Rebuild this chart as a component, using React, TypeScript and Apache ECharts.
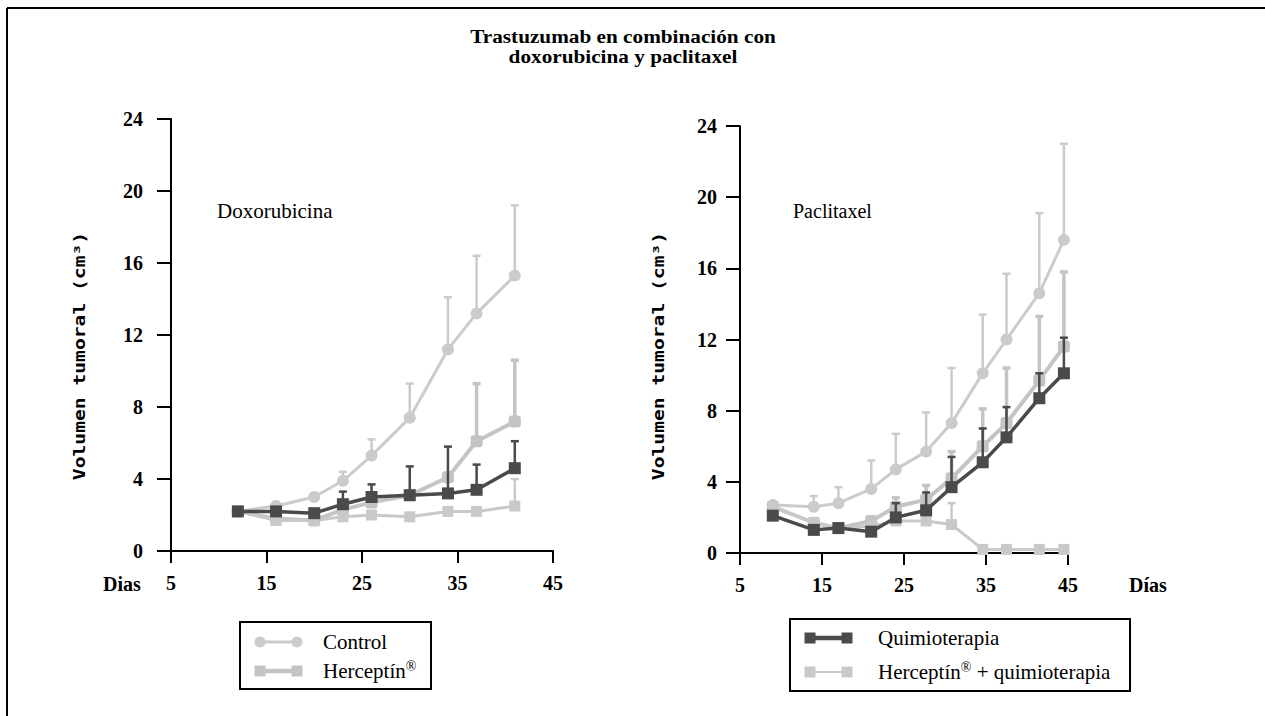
import React, { useEffect, useRef } from "react";
import * as echarts from "echarts";

// ---------- Data ----------
const daysLeft = [12, 16, 20, 23, 26, 30, 34, 37, 41];
const controlLeft = [2.2, 2.5, 3.0, 3.9, 5.3, 7.4, 11.2, 13.2, 15.3];
const controlLeftErr = [null, null, null, 4.4, 6.2, 9.3, 14.1, 16.4, 19.2];
const herceptinLeft = [2.2, 1.8, 1.7, 2.3, 2.7, 3.1, 4.1, 6.1, 7.2];
const herceptinLeftErr = [null, null, null, null, null, null, null, 9.3, 10.6];
const quimioLeft = [2.2, 2.2, 2.1, 2.6, 3.0, 3.1, 3.2, 3.4, 4.6];
const quimioLeftErr = [null, null, null, 3.3, 3.7, 4.7, 5.8, 4.8, 6.1];
const hqLeft = [2.2, 1.7, 1.7, 1.9, 2.0, 1.9, 2.2, 2.2, 2.5];
const hqLeftErr = [null, null, null, null, null, null, null, null, 4.0];

const daysRight = [9, 14, 17, 21, 24, 27.7, 30.8, 34.6, 37.5, 41.5, 44.5];
const controlRight = [2.7, 2.6, 2.8, 3.6, 4.7, 5.7, 7.3, 10.1, 12.0, 14.6, 17.6];
const controlRightErr = [null, 3.2, 3.7, 5.2, 6.7, 7.9, 10.4, 13.4, 15.7, 19.1, 23.0];
const herceptinRight = [2.6, 1.7, 1.4, 1.8, 2.6, 3.0, 4.2, 6.0, 7.3, 9.7, 11.6];
const herceptinRightErr = [null, null, null, null, 3.1, 3.8, 5.7, 8.1, 10.4, 13.3, 15.8];
const quimioRight = [2.1, 1.3, 1.4, 1.2, 2.0, 2.4, 3.7, 5.1, 6.5, 8.7, 10.1];
const quimioRightErr = [null, null, null, null, 2.8, 3.4, 5.4, 7.0, 8.2, 10.1, 12.1];
const hqRight = [2.6, 1.7, 1.4, 1.5, 1.8, 1.8, 1.6, 0.2, 0.2, 0.2, 0.2];
const hqRightErr = [null, null, null, null, null, null, 2.8, null, null, null, null];

const seriesNames = ["Control", "Herceptín®", "Quimioterapia", "Herceptín® + quimioterapia"];
// rich-text versions of legend labels (superscript ®)
const legendLabels = ["Control", "Herceptín{s|®}", "Quimioterapia", "Herceptín{s|®} + quimioterapia"];
const titleLines = ["Trastuzumab en combinación con", "doxorubicina y paclitaxel"];
const yAxisTitle = "Volumen tumoral (cm³)";

// ---------- Styles ----------
const C_CONTROL = "#cbcbcb";
const C_HERC = "#c4c4c4";
const C_QUIMIO = "#4a4a4a";
const C_HQ = "#c9c9c9";
const SERIF = "'Liberation Serif', 'Times New Roman', serif";

function lineSeries(name: string, days: number[], vals: number[], color: string, symbol: string, size: number, width: number, idx: number, z: number) {
  return {
    type: "line",
    name,
    xAxisIndex: idx,
    yAxisIndex: idx,
    data: days.map((d, i) => [d, vals[i]]),
    symbol,
    symbolSize: size,
    showAllSymbol: true,
    lineStyle: { color, width },
    itemStyle: { color, borderWidth: 0 },
    z,
  };
}

function errSeries(name: string, days: number[], vals: number[], tops: (number | null)[], color: string, width: number, idx: number, z: number) {
  const data: number[][] = [];
  days.forEach((d, i) => {
    const t = tops[i];
    if (t != null) data.push([d, vals[i], t]);
  });
  return {
    type: "custom",
    name,
    xAxisIndex: idx,
    yAxisIndex: idx,
    data,
    encode: { x: 0, y: [1, 2] },
    z,
    renderItem: (params: any, api: any) => {
      const p0 = api.coord([api.value(0), api.value(1)]);
      const p1 = api.coord([api.value(0), api.value(2)]);
      return {
        type: "group",
        children: [
          { type: "line", shape: { x1: p0[0], y1: p0[1], x2: p1[0], y2: p1[1] }, style: { stroke: color, lineWidth: width } },
          { type: "line", shape: { x1: p1[0] - 4, y1: p1[1], x2: p1[0] + 4, y2: p1[1] }, style: { stroke: color, lineWidth: width } },
        ],
      };
    },
  };
}

function xAxisCfg(idx: number) {
  return {
    type: "value",
    gridIndex: idx,
    min: 5,
    max: 45,
    interval: 10,
    axisLine: { show: true, onZero: false, lineStyle: { color: "#000", width: 2 } },
    axisTick: { show: true, length: 12, lineStyle: { color: "#000", width: 2 } },
    axisLabel: { color: "#000", fontSize: 20, fontWeight: "bold", fontFamily: SERIF, margin: 22 },
    splitLine: { show: false },
  };
}

function yAxisCfg(idx: number, margin: number) {
  return {
    type: "value",
    gridIndex: idx,
    min: 0,
    max: 24,
    interval: 4,
    axisLine: { show: true, lineStyle: { color: "#000", width: 2 } },
    axisTick: { show: true, length: 14, lineStyle: { color: "#000", width: 2 } },
    axisLabel: { color: "#000", fontSize: 20, fontWeight: "bold", fontFamily: SERIF, margin },
    splitLine: { show: false },
  };
}

function legendItem(x: number, y: number, color: string, symbol: "circle" | "rect", lw: number, text: string, textX: number) {
  const mk = (cx: number) =>
    symbol === "circle"
      ? { type: "circle", shape: { cx, cy: y, r: 5.5 }, style: { fill: color } }
      : { type: "rect", shape: { x: cx - 5.5, y: y - 5.5, width: 11, height: 11 }, style: { fill: color } };
  return [
    { type: "line", shape: { x1: x, y1: y, x2: x + 43, y2: y }, style: { stroke: color, lineWidth: lw } },
    mk(x + 3),
    mk(x + 40),
    {
      type: "text",
      x: textX,
      y,
      style: {
        text,
        fill: "#000",
        font: `21px ${SERIF}`,
        textVerticalAlign: "middle",
        rich: { s: { fontSize: 14, fontFamily: SERIF, fill: "#000", padding: [0, 0, 9, 0] } },
      },
    },
  ];
}

export default function App() {
  const ref = useRef<HTMLDivElement>(null);
  useEffect(() => {
    if (!ref.current) return;
    const chart = echarts.init(ref.current, undefined, { renderer: "svg" });
    const option: any = {
      animation: false,
      textStyle: { fontFamily: SERIF },
      grid: [
        { left: 171, top: 119, width: 382, height: 432 },
        { left: 740, top: 126, width: 328, height: 427 },
      ],
      xAxis: [xAxisCfg(0), xAxisCfg(1)],
      yAxis: [yAxisCfg(0, 28), yAxisCfg(1, 23)],
      series: [
        errSeries(seriesNames[0], daysLeft, controlLeft, controlLeftErr, C_CONTROL, 2.5, 0, 1),
        errSeries(seriesNames[1], daysLeft, herceptinLeft, herceptinLeftErr, C_HERC, 3.5, 0, 1),
        errSeries(seriesNames[3], daysLeft, hqLeft, hqLeftErr, C_HQ, 2.5, 0, 1),
        lineSeries(seriesNames[0], daysLeft, controlLeft, C_CONTROL, "circle", 12, 3, 0, 2),
        lineSeries(seriesNames[1], daysLeft, herceptinLeft, C_HERC, "roundRect", 12, 4, 0, 3),
        lineSeries(seriesNames[3], daysLeft, hqLeft, C_HQ, "rect", 11, 3, 0, 3),
        errSeries(seriesNames[2], daysLeft, quimioLeft, quimioLeftErr, C_QUIMIO, 2.5, 0, 4),
        lineSeries(seriesNames[2], daysLeft, quimioLeft, C_QUIMIO, "rect", 12, 3.5, 0, 5),

        errSeries(seriesNames[0], daysRight, controlRight, controlRightErr, C_CONTROL, 2.5, 1, 1),
        errSeries(seriesNames[1], daysRight, herceptinRight, herceptinRightErr, C_HERC, 3.5, 1, 1),
        errSeries(seriesNames[3], daysRight, hqRight, hqRightErr, C_HQ, 2.5, 1, 1),
        lineSeries(seriesNames[0], daysRight, controlRight, C_CONTROL, "circle", 12, 3, 1, 2),
        lineSeries(seriesNames[1], daysRight, herceptinRight, C_HERC, "roundRect", 12, 4, 1, 3),
        lineSeries(seriesNames[3], daysRight, hqRight, C_HQ, "rect", 11, 3, 1, 3),
        errSeries(seriesNames[2], daysRight, quimioRight, quimioRightErr, C_QUIMIO, 2.5, 1, 4),
        lineSeries(seriesNames[2], daysRight, quimioRight, C_QUIMIO, "rect", 12, 3.5, 1, 5),
      ],
      graphic: [
        { type: "line", shape: { x1: 7, y1: 8, x2: 1265, y2: 8 }, style: { stroke: "#000", lineWidth: 2 } },
        { type: "line", shape: { x1: 7, y1: 8, x2: 7, y2: 716 }, style: { stroke: "#000", lineWidth: 2 } },
        { type: "text", x: 623, y: 37, scaleX: 1.18, style: { text: titleLines[0], fill: "#000", font: `bold 18px ${SERIF}`, textAlign: "center", textVerticalAlign: "middle" } },
        { type: "text", x: 623, y: 57, scaleX: 1.18, style: { text: titleLines[1], fill: "#000", font: `bold 18px ${SERIF}`, textAlign: "center", textVerticalAlign: "middle" } },
        { type: "text", x: 217, y: 211, style: { text: "Doxorubicina", fill: "#000", font: `21px ${SERIF}`, textVerticalAlign: "middle" } },
        { type: "text", x: 793, y: 211, style: { text: "Paclitaxel", fill: "#000", font: `20px ${SERIF}`, textVerticalAlign: "middle" } },
        { type: "text", x: 122, y: 584, style: { text: "Dias", fill: "#000", font: `bold 20px ${SERIF}`, textAlign: "center", textVerticalAlign: "middle" } },
        { type: "text", x: 1148, y: 585, style: { text: "Días", fill: "#000", font: `bold 20px ${SERIF}`, textAlign: "center", textVerticalAlign: "middle" } },
        { type: "text", x: 80, y: 356, rotation: Math.PI / 2, scaleX: 1.31, style: { text: yAxisTitle, fill: "#000", font: `bold 15px 'DejaVu Sans Mono', monospace`, textAlign: "center", textVerticalAlign: "middle" } },
        { type: "text", x: 659, y: 356, rotation: Math.PI / 2, scaleX: 1.31, style: { text: yAxisTitle, fill: "#000", font: `bold 15px 'DejaVu Sans Mono', monospace`, textAlign: "center", textVerticalAlign: "middle" } },
        // Legends
        { type: "rect", shape: { x: 240, y: 622, width: 191, height: 67 }, style: { fill: "#fff", stroke: "#000", lineWidth: 2 } },
        ...legendItem(257, 642, C_CONTROL, "circle", 3, legendLabels[0], 323),
        ...legendItem(257, 671, C_HERC, "rect", 4.5, legendLabels[1], 323),
        { type: "rect", shape: { x: 790, y: 619, width: 340, height: 72 }, style: { fill: "#fff", stroke: "#000", lineWidth: 2 } },
        ...legendItem(807, 638, C_QUIMIO, "rect", 4.5, legendLabels[2], 878),
        ...legendItem(807, 672, C_HQ, "rect", 2, legendLabels[3], 878),
      ],
    };
    chart.setOption(option);
    return () => chart.dispose();
  }, []);
  return <div ref={ref} style={{ position: "absolute", left: 0, top: 0, width: 1265, height: 716 }} />;
}
